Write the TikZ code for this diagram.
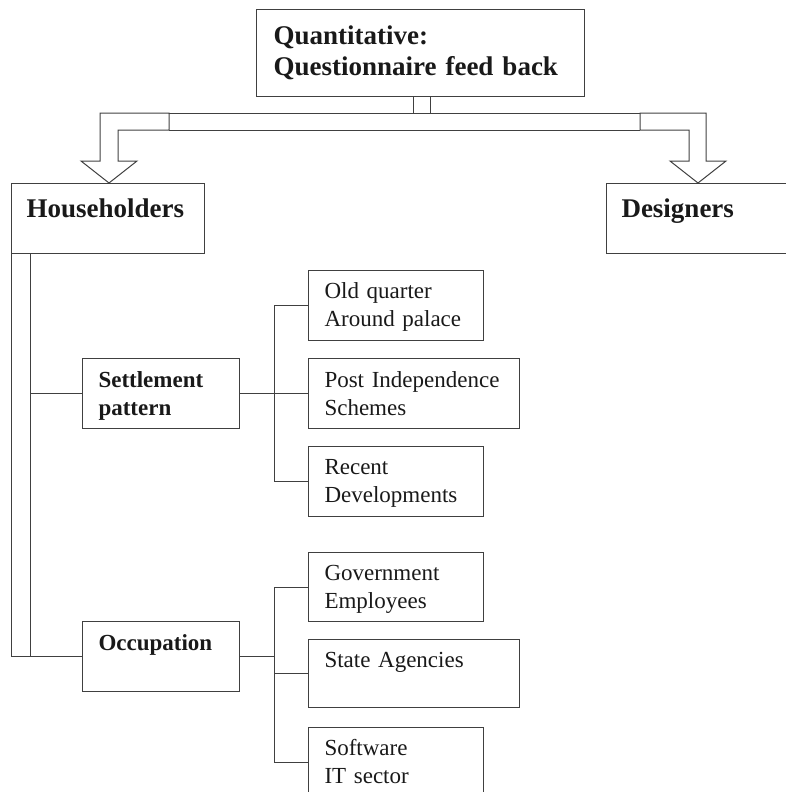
\documentclass[tikz,border=0pt]{standalone}
\usepackage{fontspec}
\setmainfont{Liberation Serif}
\usetikzlibrary{calc}
\begin{document}
\begin{tikzpicture}[x=1pt,y=-1pt,
  ln/.style={line width=1pt, draw=black!75, line join=miter},
  boxbase/.style={ln, draw, anchor=north west, inner xsep=16pt, inner ysep=0pt, align=left, text=black!90},
  bigbox/.style={boxbase, font=\fontsize{27}{31}\selectfont\bfseries},
  midbox/.style={boxbase, font=\fontsize{23}{28}\selectfont\bfseries},
  leafbox/.style={boxbase, font=\fontsize{23}{28}\selectfont}]
\useasboundingbox (0,0) rectangle (786,792);
\begin{scope}
\clip (0,0) rectangle (786,792);
% top level
\node[bigbox, inner xsep=17pt, text width=294pt, text height=35pt, text depth=52pt] (top) at (256,9) {Quantitative:\\Questionnaire feed back};
\node[bigbox, inner xsep=15pt, text width=163pt, text height=34pt, text depth=36pt] (hh) at (11,183) {Householders};
\node[bigbox, inner xsep=15pt, text width=150pt, text height=34pt, text depth=36pt] (des) at (606,183) {Designers};
% second level
\node[midbox, text width=125pt, text height=29pt, text depth=41pt] (settle) at (82,358) {Settlement\\pattern};
\node[midbox, text width=125pt, text height=29pt, text depth=41pt] (occ) at (82,621) {Occupation};
% leaves
\node[leafbox, text width=143pt, text height=28pt, text depth=42pt] (old) at (308,270) {Old quarter\\Around palace};
\node[leafbox, text width=179pt, text height=29pt, text depth=41pt] (post) at (308,358) {Post Independence\\Schemes};
\node[leafbox, text width=143pt, text height=28pt, text depth=42pt] (recent) at (308,446) {Recent\\Developments};
\node[leafbox, text width=143pt, text height=28pt, text depth=41pt] (govt) at (308,552) {Government\\Employees};
\node[leafbox, text width=179pt, text height=28pt, text depth=40pt] (state) at (308,639) {State Agencies};
\node[leafbox, text width=143pt, text height=28pt, text depth=42pt] (soft) at (308,727) {Software\\IT sector};

% hollow arrows from top box
\coordinate (stemL) at (413,96);
\coordinate (stemR) at (430,96);
\coordinate (tipL) at (109,183);
\coordinate (tipR) at (698,183);
\draw[ln] (stemL) -- (413,113);
\draw[ln] (stemR) -- (430,113);
\draw[ln] (169,113) -- (100,113) -- (100,161) -- (81,161) -- (tipL) -- (137,161) -- (118,161) -- (118,130) -- (169,130) -- cycle;
\draw[ln] (640,113) -- (706,113) -- (706,161) -- (726,161) -- (tipR) -- (670,161) -- (689,161) -- (689,130) -- (640,130) -- cycle;
\draw[ln] (169,113) -- (640,113);
\draw[ln] (169,130) -- (640,130);

% householders tree
\coordinate (hi) at ($(hh.south west)+(19,0)$);
\draw[ln] (hh.south west) -- (hh.south west |- occ.west) -- (occ.west);
\draw[ln] (hi) -- (hi |- occ.west);
\draw[ln] (hi |- settle.west) -- (settle.west);

% settlement branches
\coordinate (sj) at ($(settle.east)+(34,0)$);
\draw[ln] (settle.east) -- (sj);
\draw[ln] (sj |- old.west) -- (sj |- recent.west);
\draw[ln] (sj |- old.west) -- (old.west);
\draw[ln] (sj |- post.west) -- (post.west);
\draw[ln] (sj |- recent.west) -- (recent.west);

% occupation branches
\coordinate (oj) at ($(occ.east)+(34,0)$);
\draw[ln] (occ.east) -- (oj);
\draw[ln] (oj |- govt.west) -- (oj |- soft.west);
\draw[ln] (oj |- govt.west) -- (govt.west);
\draw[ln] (oj |- state.west) -- (state.west);
\draw[ln] (oj |- soft.west) -- (soft.west);
\end{scope}
\end{tikzpicture}
\end{document}
